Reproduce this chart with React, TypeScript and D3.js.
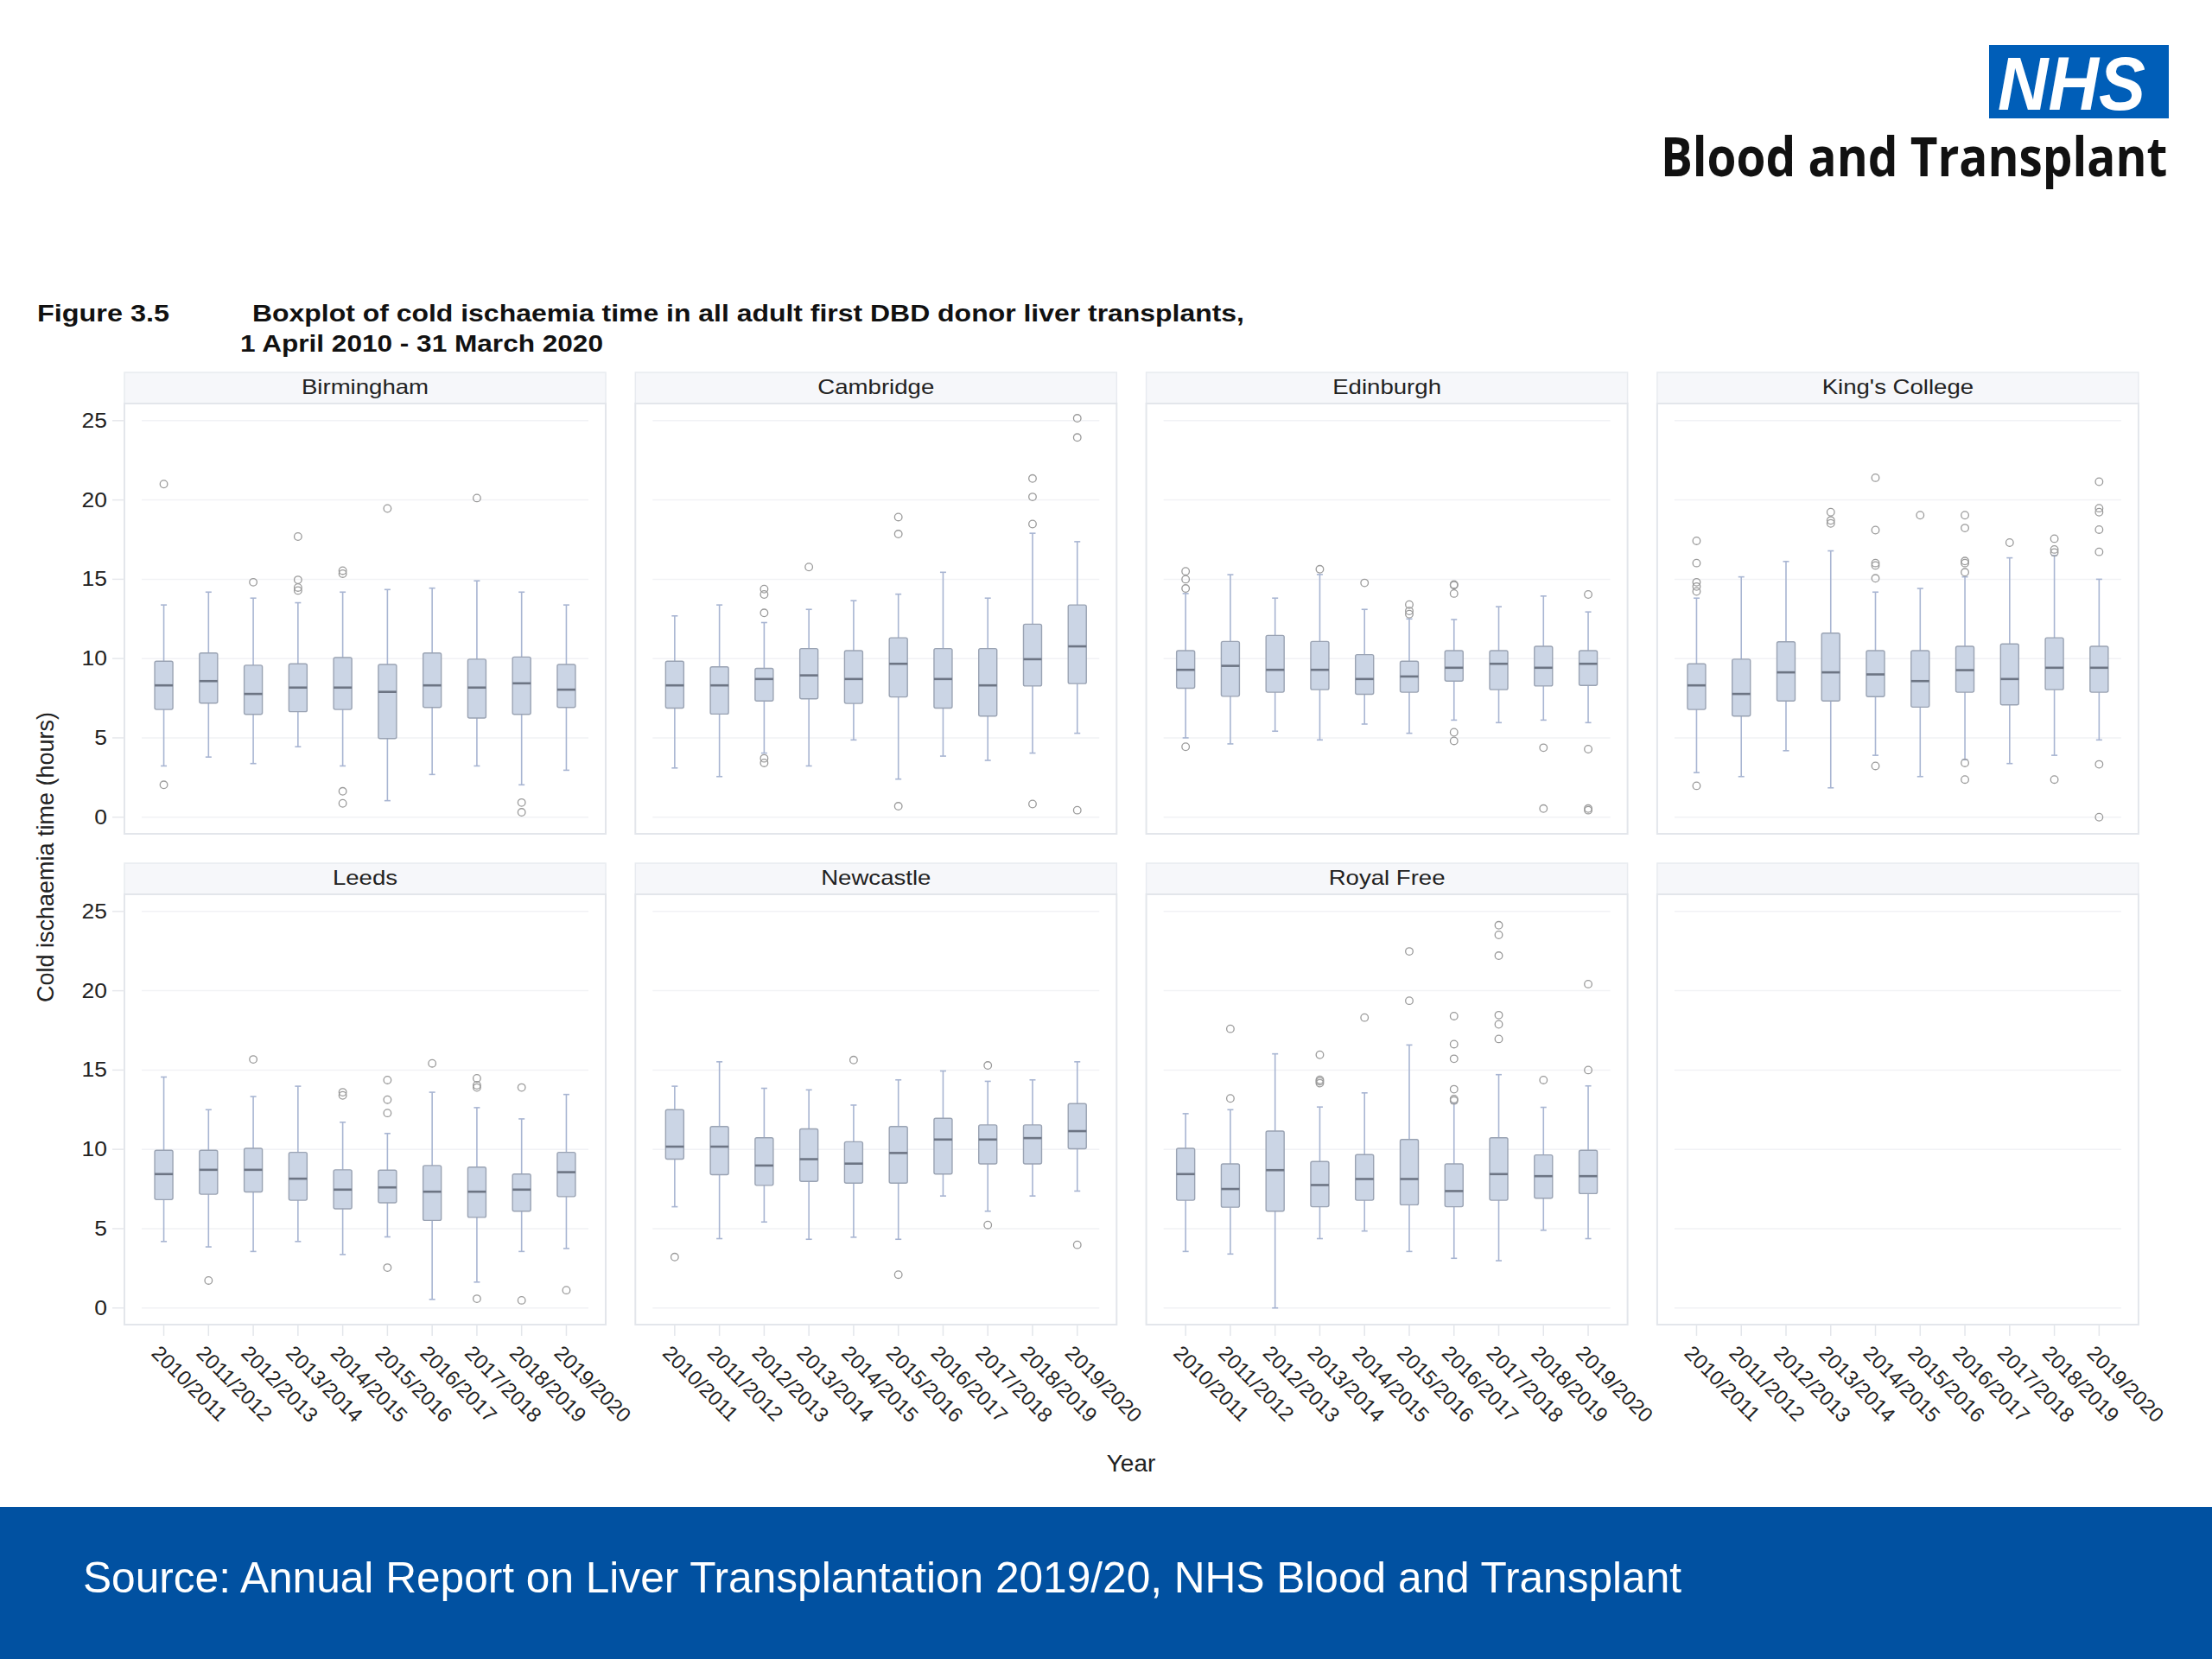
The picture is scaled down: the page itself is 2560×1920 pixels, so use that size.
import * as d3 from 'd3';

// categories
const years = [
    '2010/2011', '2011/2012', '2012/2013', '2013/2014', '2014/2015',
    '2015/2016', '2016/2017', '2017/2018', '2018/2019', '2019/2020'
];
const centres = ['Birmingham', 'Cambridge', 'Edinburgh', "King's College", 'Leeds', 'Newcastle', 'Royal Free'];
const yTicks = [0, 5, 10, 15, 20, 25];

// each box: [lower whisker, Q1, median, Q3, upper whisker] in hours
const birminghamBoxes = [
    [3.23, 6.79, 8.31, 9.83, 13.38],
    [3.79, 7.19, 8.58, 10.35, 14.19],
    [3.38, 6.48, 7.77, 9.58, 13.81],
    [4.44, 6.65, 8.17, 9.67, 13.52],
    [3.23, 6.79, 8.17, 10.06, 14.19],
    [1.04, 4.96, 7.90, 9.63, 14.35],
    [2.69, 6.92, 8.31, 10.35, 14.44],
    [3.23, 6.25, 8.17, 9.96, 14.90],
    [2.04, 6.48, 8.44, 10.10, 14.19],
    [2.96, 6.92, 8.04, 9.63, 13.38]
];
const birminghamOutliers = [[21.0, 2.04], [], [14.81], [17.69, 14.96, 14.48, 14.29], [15.54, 15.35, 1.63, 0.87], [19.46], [], [20.12], [0.92, 0.31], []];

const cambridgeBoxes = [
    [3.10, 6.88, 8.31, 9.83, 12.69],
    [2.56, 6.50, 8.31, 9.48, 13.38],
    [4.04, 7.33, 8.71, 9.38, 12.27],
    [3.23, 7.46, 8.94, 10.63, 13.10],
    [4.87, 7.17, 8.71, 10.50, 13.65],
    [2.40, 7.58, 9.67, 11.31, 14.06],
    [3.85, 6.88, 8.71, 10.63, 15.44],
    [3.58, 6.37, 8.31, 10.63, 13.81],
    [4.04, 8.27, 9.96, 12.17, 17.90],
    [5.29, 8.42, 10.77, 13.38, 17.37]
];
const cambridgeOutliers = [[], [], [14.38, 14.04, 12.88, 3.71, 3.42], [15.77], [], [18.92, 17.85, 0.69], [], [], [21.35, 20.19, 18.48, 0.83], [25.15, 23.94, 0.44]];

const edinburghBoxes = [
    [5.00, 8.13, 9.29, 10.50, 14.10],
    [4.62, 7.62, 9.54, 11.08, 15.29],
    [5.42, 7.88, 9.29, 11.46, 13.81],
    [4.87, 8.04, 9.29, 11.08, 15.30],
    [5.87, 7.75, 8.71, 10.25, 13.10],
    [5.29, 7.88, 8.87, 9.83, 12.50],
    [6.12, 8.58, 9.42, 10.50, 12.46],
    [5.96, 8.04, 9.67, 10.50, 13.27],
    [6.12, 8.27, 9.42, 10.77, 13.94],
    [5.96, 8.31, 9.67, 10.50, 12.94]
];
const edinburghOutliers = [[15.5, 15.0, 14.42, 4.44], [], [], [15.63], [14.77], [13.4, 13.0, 12.8], [14.67, 14.62, 14.10, 5.35, 4.81], [], [4.38, 0.54], [14.04, 4.29, 0.54, 0.44]];

const kingsBoxes = [
    [2.81, 6.79, 8.31, 9.67, 13.81],
    [2.56, 6.37, 7.77, 9.96, 15.15],
    [4.19, 7.33, 9.13, 11.06, 16.12],
    [1.85, 7.33, 9.13, 11.60, 16.79],
    [3.90, 7.60, 9.00, 10.50, 14.19],
    [2.56, 6.94, 8.58, 10.50, 14.42],
    [3.62, 7.88, 9.27, 10.77, 15.15],
    [3.38, 7.08, 8.71, 10.92, 16.35],
    [3.90, 8.04, 9.42, 11.31, 16.50],
    [4.87, 7.88, 9.42, 10.77, 15.00]
];
const kingsOutliers = [
    [17.42, 16.02, 14.81, 14.54, 14.23, 1.98], [], [], [19.23, 18.71, 18.52],
    [21.40, 18.10, 16.02, 15.87, 15.06, 3.23], [19.04],
    [19.04, 18.23, 16.15, 16.02, 15.44, 3.42, 2.37], [17.31],
    [17.56, 16.88, 16.69, 2.37], [21.15, 19.48, 19.23, 18.13, 16.73, 3.33, 0.0]
];

const leedsBoxes = [
    [4.19, 6.83, 8.44, 9.94, 14.56],
    [3.85, 7.17, 8.71, 9.94, 12.50],
    [3.56, 7.31, 8.71, 10.06, 13.33],
    [4.19, 6.79, 8.15, 9.81, 13.98],
    [3.37, 6.25, 7.46, 8.71, 11.71],
    [4.48, 6.63, 7.60, 8.69, 11.00],
    [0.54, 5.52, 7.33, 8.98, 13.60],
    [1.63, 5.71, 7.33, 8.88, 12.63],
    [3.56, 6.10, 7.46, 8.44, 11.92],
    [3.75, 7.02, 8.56, 9.81, 13.46]
];
const leedsOutliers = [[], [1.73], [15.67], [], [13.6, 13.4], [14.37, 13.13, 12.29, 2.54], [15.42], [14.48, 14.04, 13.9, 0.58], [13.9, 0.48], [1.12]];

const newcastleBoxes = [
    [6.38, 9.38, 10.17, 12.50, 13.98],
    [4.37, 8.40, 10.17, 11.44, 15.52],
    [5.42, 7.73, 8.98, 10.73, 13.85],
    [4.33, 7.98, 9.38, 11.29, 13.75],
    [4.46, 7.87, 9.10, 10.48, 12.79],
    [4.33, 7.87, 9.77, 11.44, 14.38],
    [7.06, 8.44, 10.62, 11.96, 14.94],
    [6.10, 9.08, 10.62, 11.54, 14.29],
    [7.06, 9.08, 10.71, 11.54, 14.38],
    [7.37, 10.04, 11.15, 12.88, 15.52]
];
const newcastleOutliers = [[3.21], [], [], [], [15.63], [2.10], [], [15.29, 5.23], [], [3.98]];

const royalFreeBoxes = [
    [3.56, 6.79, 8.44, 10.06, 12.25],
    [3.40, 6.35, 7.50, 9.08, 12.50],
    [0.00, 6.10, 8.69, 11.15, 16.02],
    [4.37, 6.38, 7.75, 9.23, 12.67],
    [4.85, 6.79, 8.13, 9.67, 13.56],
    [3.56, 6.50, 8.13, 10.62, 16.58],
    [3.13, 6.38, 7.37, 9.08, 12.90],
    [2.98, 6.79, 8.44, 10.73, 14.71],
    [4.90, 6.92, 8.31, 9.65, 12.65],
    [4.37, 7.21, 8.31, 9.94, 14.00]
];
const royalFreeOutliers = [[], [17.6, 13.21], [], [15.96, 14.38, 14.29, 14.17], [18.31], [22.48, 19.37], [18.4, 16.63, 15.71, 13.79, 13.17, 13.08], [24.13, 23.52, 22.21, 18.46, 17.88, 16.96], [14.37], [20.42, 15.0]];

const allBoxes = [birminghamBoxes, cambridgeBoxes, edinburghBoxes, kingsBoxes, leedsBoxes, newcastleBoxes, royalFreeBoxes];
const allOutliers = [birminghamOutliers, cambridgeOutliers, edinburghOutliers, kingsOutliers, leedsOutliers, newcastleOutliers, royalFreeOutliers];

const FONT = "'Liberation Sans', Arial, Helvetica, sans-serif";

// layout
const W = 2560, H = 1920;
const panelLeft0 = 144, panelPitch = 591.3, panelW = 557;
const rowTop = [431, 999];
const stripH = 36, plotH = 498;
const boxW = 21, capW = 7;

function Panel(props: { index: number }) {
    const col = props.index % 4;
    const row = Math.floor(props.index / 4);
    const left = panelLeft0 + col * panelPitch;
    const top = rowTop[row] + stripH;
    const bottom = top + plotH;
    const name = centres[props.index];
    const boxes = allBoxes[props.index];
    const outliers = allOutliers[props.index];

    const x = d3.scalePoint<string>().domain(years).range([left, left + panelW]).padding(0.88);
    const y = d3.scaleLinear().domain([-1.05, 26.08]).range([bottom, top]);

    return (
        <g>
            {/* strip */}
            <rect x={left} y={rowTop[row]} width={panelW} height={stripH} fill="#f6f7fa" stroke="#e8ebf0" strokeWidth={1.5} />
            {name && (
                <g transform={`translate(${left + panelW / 2},${rowTop[row] + 25}) scale(1.2,1)`}>
                    <text textAnchor="middle" fontSize={23} fontFamily={FONT} fill="#222">{name}</text>
                </g>
            )}
            {/* panel */}
            <rect x={left} y={top} width={panelW} height={plotH} fill="#fff" stroke="#e3e6eb" strokeWidth={2} />
            {yTicks.map(t => (
                <line key={t} x1={left + 20} x2={left + panelW - 20} y1={y(t)} y2={y(t)} stroke="#f1f2f5" strokeWidth={1.5} />
            ))}

            {/* y axis for first column */}
            {col === 0 && yTicks.map(t => (
                <g key={'yt' + t}>
                    <line x1={left - 14} x2={left} y1={y(t)} y2={y(t)} stroke="#e6e8ec" strokeWidth={1.5} />
                    <g transform={`translate(${left - 20},${y(t) + 8}) scale(1.15,1)`}>
                        <text textAnchor="end" fontSize={23} fontFamily={FONT} fill="#222">{t}</text>
                    </g>
                </g>
            ))}

            {/* x axis for bottom row */}
            {row === 1 && years.map(yr => (
                <g key={'xt' + yr}>
                    <line x1={x(yr)} x2={x(yr)} y1={bottom} y2={bottom + 13} stroke="#e3e6eb" strokeWidth={1.5} />
                    <text
                        transform={`translate(${(x(yr) as number) - 3},${bottom + 22}) rotate(45)`}
                        dominantBaseline="hanging"
                        fontSize={24}
                        fontFamily={FONT}
                        fill="#222"
                    >{yr}</text>
                </g>
            ))}

            {/* boxes */}
            {boxes && boxes.map((b, i) => {
                const cx = x(years[i]) as number;
                const [lo, q1, med, q3, hi] = b;
                return (
                    <g key={'b' + i}>
                        <line x1={cx} x2={cx} y1={y(hi)} y2={y(q3)} stroke="#a8b5d2" strokeWidth={1.6} />
                        <line x1={cx} x2={cx} y1={y(q1)} y2={y(lo)} stroke="#a8b5d2" strokeWidth={1.6} />
                        <line x1={cx - capW / 2} x2={cx + capW / 2} y1={y(hi)} y2={y(hi)} stroke="#a8b5d2" strokeWidth={1.6} />
                        <line x1={cx - capW / 2} x2={cx + capW / 2} y1={y(lo)} y2={y(lo)} stroke="#a8b5d2" strokeWidth={1.6} />
                        <rect x={cx - boxW / 2} y={y(q3)} width={boxW} height={y(q1) - y(q3)} rx={2}
                            fill="#cbd5e5" stroke="#9aa3b3" strokeWidth={1.4} />
                        <line x1={cx - boxW / 2} x2={cx + boxW / 2} y1={y(med)} y2={y(med)} stroke="#6d7584" strokeWidth={2.6} />
                        {outliers[i].map((o, j) => (
                            <circle key={j} cx={cx} cy={y(o)} r={4.3} fill="none" stroke="#9b9b9b" strokeWidth={1.3} />
                        ))}
                    </g>
                );
            })}
        </g>
    );
}

export default function App() {
    const panelIdx = d3.range(8);
    return (
        <svg width={W} height={H} viewBox={`0 0 ${W} ${H}`}
            style={{ position: 'absolute', left: 0, top: 0, display: 'block', background: '#fff' }}>
            <rect x={0} y={0} width={W} height={H} fill="#fff" />

            {/* NHS logo */}
            <rect x={2302} y={52} width={208} height={85} fill="#005EB8" />
            <g transform="translate(2312,127) scale(0.92,1)">
                <text x={0} y={0} fontSize={88} fontWeight="bold" fontStyle="italic" fontFamily={FONT} fill="#fff">NHS</text>
            </g>
            <g transform="translate(1922,204) scale(0.885,1)">
                <text x={0} y={0} fontSize={62} fontWeight="bold" fontFamily="'Open Sans', 'Noto Sans', sans-serif"
                    fill="#111">Blood and Transplant</text>
            </g>

            {/* title */}
            <text x={43} y={372} fontSize={28} fontWeight="bold" fontFamily={FONT} fill="#111"
                textLength={153} lengthAdjust="spacingAndGlyphs">Figure 3.5</text>
            <text x={292} y={372} fontSize={28} fontWeight="bold" fontFamily={FONT} fill="#111"
                textLength={1148} lengthAdjust="spacingAndGlyphs">Boxplot of cold ischaemia time in all adult first DBD donor liver transplants,</text>
            <text x={278} y={407} fontSize={28} fontWeight="bold" fontFamily={FONT} fill="#111"
                textLength={420} lengthAdjust="spacingAndGlyphs">1 April 2010 - 31 March 2020</text>

            {panelIdx.map(i => <Panel key={i} index={i} />)}

            {/* axis titles */}
            <text transform="translate(62,992) rotate(-90)" textAnchor="middle" fontSize={27} fontFamily={FONT} fill="#222">
                Cold ischaemia time (hours)
            </text>
            <text x={1309} y={1703} textAnchor="middle" fontSize={28} fontFamily={FONT} fill="#222">Year</text>

            {/* footer */}
            <rect x={0} y={1744} width={W} height={176} fill="#0151A1" />
            <text x={96} y={1843} fontSize={50} fontFamily={FONT} fill="#fff"
                textLength={1850} lengthAdjust="spacingAndGlyphs">
                Source: Annual Report on Liver Transplantation 2019/20, NHS Blood and Transplant
            </text>
        </svg>
    );
}
